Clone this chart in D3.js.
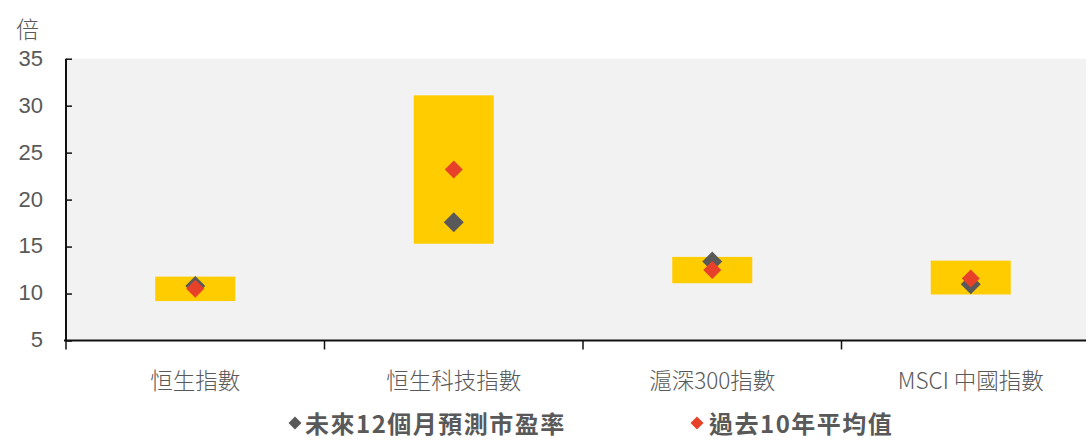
<!DOCTYPE html>
<html><head><meta charset="utf-8">
<script src="https://cdn.jsdelivr.net/npm/d3@7"></script>
<style>body{margin:0;background:#fff;}svg{display:block;}</style>
</head><body>
<svg id="c" width="1086" height="440"></svg>
<script>
const categories = ["恒生指數","恒生科技指數","滬深300指數","MSCI 中國指數"];
const rangeLow  = [9.2, 15.3, 11.1, 9.9];
const rangeHigh = [11.8, 31.1, 13.9, 13.5];
const forwardPE = [10.8, 17.6, 13.4, 11.0];
const avg10y    = [10.5, 23.2, 12.5, 11.6];
const yTicks = [5,10,15,20,25,30,35];
const seriesNames = ["未來12個月預測市盈率","過去10年平均值"];

(function(){
const font = "'Liberation Sans', Arial, 'Noto Sans CJK TC', sans-serif";
const cjk = "'Noto Sans CJK TC', sans-serif";
const svg = d3.select("#c");
const pL = 66, pR = 1100, pT = 58.7, pB = 340.5;
const x = d3.scaleBand().domain(categories).range([pL, pR]).paddingInner(0).paddingOuter(0);
const y = d3.scaleLinear().domain([5,35]).range([pB, pT]);

svg.append("rect").attr("x", pL).attr("y", pT).attr("width", pR-pL).attr("height", pB-pT).attr("fill", "#f2f2f2");

const barW = 80;
svg.append("g").selectAll("rect").data(categories).join("rect")
  .attr("x", d => x(d) + x.bandwidth()/2 - barW/2)
  .attr("width", barW)
  .attr("y", (d,i) => y(rangeHigh[i]))
  .attr("height", (d,i) => y(rangeLow[i]) - y(rangeHigh[i]))
  .attr("fill", "#ffcc00");

const diamond = r => `M0,${-r}L${r},0L0,${r}L${-r},0Z`;
svg.append("g").selectAll("path").data(categories).join("path")
  .attr("d", diamond(10))
  .attr("transform", (d,i) => `translate(${x(d)+x.bandwidth()/2},${y(forwardPE[i])})`)
  .attr("fill", "#595959");
svg.append("g").selectAll("path").data(categories).join("path")
  .attr("d", diamond(9))
  .attr("transform", (d,i) => `translate(${x(d)+x.bandwidth()/2},${y(avg10y[i])})`)
  .attr("fill", "#e8412a");

// y axis
const ya = svg.append("g").attr("transform", `translate(${pL},0)`)
  .call(d3.axisRight(y).tickValues(yTicks).tickSize(6).tickFormat(""));
ya.select(".domain").attr("stroke", "#111").attr("stroke-width", 2).attr("d", `M0,${pT}H0V${pB}`);
ya.selectAll(".tick line").attr("stroke", "#111").attr("stroke-width", 1.5);
svg.append("g").selectAll("text").data(yTicks).join("text")
  .attr("x", 43).attr("y", d => y(d) - 1).attr("dy", "0.36em").attr("text-anchor", "end")
  .attr("font-family", font).attr("font-size", 22).attr("fill", "#595959").text(d => d);
svg.append("text").attr("x", 16).attr("y", 38).attr("font-family", cjk).attr("font-weight", 300)
  .attr("font-size", 23).attr("fill", "#595959").text("倍");

// x axis
const xa = svg.append("g").attr("transform", `translate(0,${pB})`)
  .call(d3.axisBottom(x).tickSize(0).tickFormat(""));
xa.select(".domain").attr("stroke", "#111").attr("stroke-width", 2).attr("d", `M${pL-2},0H${pR}`);
const bounds = categories.map(c => x(c)).concat([pR]);
svg.append("g").selectAll("line").data(bounds).join("line")
  .attr("x1", d => d).attr("x2", d => d).attr("y1", pB).attr("y2", pB + 9)
  .attr("stroke", "#111").attr("stroke-width", 1.5);
svg.append("g").selectAll("text").data(categories).join("text")
  .attr("x", d => x(d) + x.bandwidth()/2).attr("y", 389).attr("text-anchor", "middle")
  .attr("font-family", cjk).attr("font-weight", 300).attr("font-size", 22.5).attr("fill", "#595959").text(d => d);

// legend
const legX = [295, 697], legColors = ["#595959", "#e8412a"];
const lg = svg.append("g").selectAll("g").data(seriesNames).join("g")
  .attr("transform", (d,i) => `translate(${legX[i]},423)`);
lg.append("path").attr("d", diamond(6.5)).attr("fill", (d,i) => legColors[i]);
lg.append("text").attr("x", (d,i) => i === 0 ? 10 : 12).attr("y", 10)
  .attr("font-family", cjk).attr("font-weight", "bold").attr("letter-spacing", 1.5)
  .attr("font-size", 24).attr("fill", "#595959").text(d => d);
})();
</script>
</body></html>
